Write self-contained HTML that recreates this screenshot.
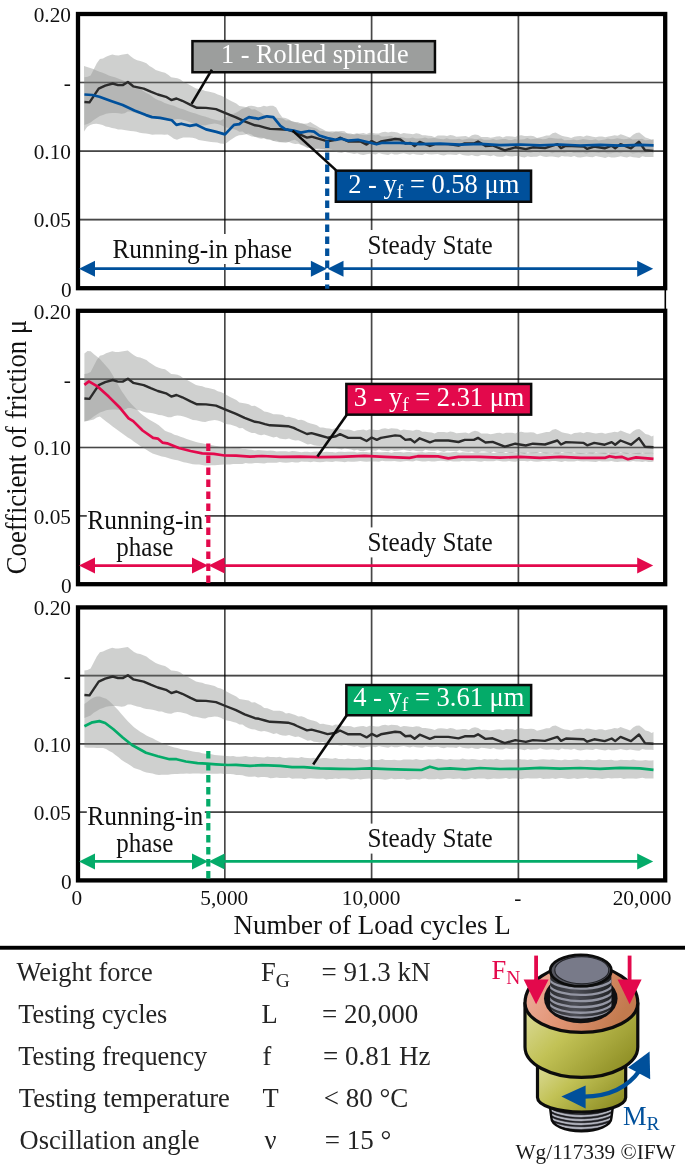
<!DOCTYPE html>
<html lang="en"><head><meta charset="utf-8"><title>Coefficient of friction</title>
<style>html,body{margin:0;padding:0;background:#fff;}body{width:685px;height:1169px;overflow:hidden;}svg text{font-family:"Liberation Serif", "DejaVu Serif", serif;font-variant-ligatures:none;}</style></head>
<body>
<svg width="685" height="1169" viewBox="0 0 685 1169" style="display:block">
<rect x="0" y="0" width="685" height="1169" fill="#ffffff"/>
<g>
<line x1="78.0" y1="82.55" x2="665.2" y2="82.55" stroke="rgba(0,0,0,0.6)" stroke-width="1.6"/>
<line x1="224.80" y1="14.0" x2="224.80" y2="288.2" stroke="rgba(0,0,0,0.6)" stroke-width="1.6"/>
<line x1="78.0" y1="151.10" x2="665.2" y2="151.10" stroke="rgba(0,0,0,0.6)" stroke-width="1.6"/>
<line x1="371.60" y1="14.0" x2="371.60" y2="288.2" stroke="rgba(0,0,0,0.6)" stroke-width="1.6"/>
<line x1="78.0" y1="219.65" x2="665.2" y2="219.65" stroke="rgba(0,0,0,0.6)" stroke-width="1.6"/>
<line x1="518.40" y1="14.0" x2="518.40" y2="288.2" stroke="rgba(0,0,0,0.6)" stroke-width="1.6"/>
<path d="M84.4,77.3 L87.5,76.8 L90.6,75.4 L93.7,69.4 L96.8,63.3 L99.9,59.1 L103.0,58.4 L106.1,56.7 L109.2,55.5 L112.3,54.5 L115.4,55.3 L118.5,55.4 L121.6,54.8 L124.7,54.2 L127.8,53.8 L130.9,56.4 L134.0,58.7 L137.1,60.2 L140.2,60.9 L143.3,62.0 L146.4,63.3 L149.5,65.9 L152.6,67.7 L155.7,69.9 L158.8,71.1 L161.9,72.1 L165.0,72.7 L168.1,74.8 L171.2,77.3 L174.3,77.7 L177.4,78.2 L180.5,79.5 L183.6,81.9 L186.7,83.2 L189.8,85.0 L192.9,86.7 L196.0,88.4 L199.1,89.1 L202.2,89.8 L205.3,90.9 L208.4,91.4 L211.5,92.2 L214.6,93.0 L217.7,94.6 L220.8,95.6 L223.9,97.1 L227.0,98.7 L230.1,100.6 L233.2,101.9 L236.3,103.5 L239.4,106.1 L242.5,106.6 L245.6,107.0 L248.7,107.6 L251.8,109.6 L254.9,109.3 L258.0,110.9 L261.1,112.7 L264.2,115.0 L267.3,115.3 L270.4,116.5 L273.5,117.8 L276.6,117.8 L279.7,117.9 L282.8,118.4 L285.9,120.4 L289.0,120.2 L292.1,121.2 L295.2,122.0 L298.3,123.5 L301.4,123.2 L304.5,124.3 L307.6,126.1 L310.7,127.1 L313.8,127.8 L316.9,128.8 L320.0,131.1 L323.1,130.9 L326.2,131.7 L329.3,132.0 L332.4,132.8 L335.5,131.6 L338.6,131.9 L341.7,132.8 L344.8,133.4 L347.9,133.2 L351.0,133.4 L354.1,134.7 L357.2,133.8 L360.3,133.5 L363.4,133.1 L366.5,134.1 L369.6,132.8 L372.7,133.1 L375.8,133.5 L378.9,133.5 L382.0,132.3 L385.1,131.8 L388.2,132.5 L391.3,131.8 L394.4,132.0 L397.5,132.4 L400.6,134.0 L403.7,133.1 L406.8,133.4 L409.9,133.8 L413.0,134.2 L416.1,133.3 L419.2,133.7 L422.3,135.2 L425.4,135.3 L428.5,135.7 L431.6,136.1 L434.7,137.2 L437.8,135.6 L440.9,135.5 L444.0,135.5 L447.1,136.0 L450.2,135.1 L453.3,135.5 L456.4,136.8 L459.5,136.5 L462.6,136.2 L465.7,136.1 L468.8,137.2 L471.9,135.2 L475.0,134.4 L478.1,135.0 L481.2,137.0 L484.3,136.9 L487.4,137.1 L490.5,137.8 L493.6,137.2 L496.7,136.5 L499.8,136.3 L502.9,137.4 L506.0,136.2 L509.1,136.3 L512.2,136.4 L515.3,137.0 L518.4,135.4 L521.5,135.3 L524.6,136.0 L527.7,136.1 L530.8,135.8 L533.9,136.2 L537.0,137.9 L540.1,137.2 L543.2,136.4 L546.3,135.4 L549.4,135.4 L552.5,133.2 L555.6,132.5 L558.7,134.2 L561.8,135.8 L564.9,136.5 L568.0,137.0 L571.1,137.9 L574.2,136.7 L577.3,136.2 L580.4,135.9 L583.5,136.8 L586.6,135.6 L589.7,135.9 L592.8,136.7 L595.9,137.2 L599.0,136.4 L602.1,136.4 L605.2,137.3 L608.3,136.6 L611.4,136.1 L614.5,135.3 L617.6,135.8 L620.7,134.2 L623.8,135.3 L626.9,136.5 L630.0,137.6 L633.1,134.7 L636.2,132.9 L639.3,132.6 L642.4,134.9 L645.5,137.5 L648.6,138.4 L651.7,140.1 L653.5,139.1 L653.5,157.1 L651.7,156.9 L648.6,157.1 L645.5,157.1 L642.4,156.3 L639.3,157.9 L636.2,157.6 L633.1,157.3 L630.0,156.6 L626.9,157.5 L623.8,156.9 L620.7,156.2 L617.6,157.0 L614.5,157.5 L611.4,157.6 L608.3,156.7 L605.2,157.9 L602.1,157.3 L599.0,156.8 L595.9,156.1 L592.8,157.3 L589.7,157.0 L586.6,156.6 L583.5,157.1 L580.4,157.6 L577.3,157.2 L574.2,156.0 L571.1,156.9 L568.0,156.5 L564.9,156.4 L561.8,155.9 L558.7,157.4 L555.6,157.1 L552.5,156.6 L549.4,156.6 L546.3,157.0 L543.2,156.5 L540.1,155.5 L537.0,156.7 L533.9,156.8 L530.8,156.9 L527.7,156.2 L524.6,157.6 L521.5,156.9 L518.4,156.1 L515.3,155.9 L512.2,156.6 L509.1,156.3 L506.0,155.6 L502.9,156.7 L499.8,156.7 L496.7,156.4 L493.6,155.2 L490.5,156.3 L487.4,155.6 L484.3,155.1 L481.2,155.1 L478.1,156.2 L475.0,155.9 L471.9,155.0 L468.8,155.7 L465.7,155.4 L462.6,155.0 L459.5,153.8 L456.4,155.1 L453.3,154.7 L450.2,154.6 L447.1,154.4 L444.0,155.5 L440.9,154.9 L437.8,153.9 L434.7,154.3 L431.6,154.4 L428.5,154.3 L425.4,153.5 L422.3,155.0 L419.2,154.8 L416.1,154.5 L413.0,153.8 L409.9,154.8 L406.8,154.0 L403.7,153.3 L400.6,153.8 L397.5,154.4 L394.4,154.5 L391.3,153.6 L388.2,154.9 L385.1,154.4 L382.0,154.0 L378.9,153.1 L375.8,154.4 L372.7,154.0 L369.6,153.7 L366.5,154.2 L363.4,154.9 L360.3,154.6 L357.2,153.3 L354.1,154.0 L351.0,153.2 L347.9,152.7 L344.8,151.8 L341.7,153.1 L338.6,152.4 L335.5,151.7 L332.4,151.4 L329.3,151.6 L326.2,150.6 L323.1,149.1 L320.0,149.7 L316.9,149.3 L313.8,148.9 L310.7,147.5 L307.6,148.0 L304.5,146.5 L301.4,145.0 L298.3,143.8 L295.2,144.1 L292.1,143.3 L289.0,142.1 L285.9,142.8 L282.8,142.5 L279.7,141.9 L276.6,140.4 L273.5,141.1 L270.4,139.9 L267.3,138.9 L264.2,138.2 L261.1,138.7 L258.0,137.9 L254.9,136.7 L251.8,136.4 L248.7,135.3 L245.6,133.8 L242.5,131.6 L239.4,131.7 L236.3,129.9 L233.2,129.0 L230.1,128.1 L227.0,127.7 L223.9,126.5 L220.8,124.9 L217.7,123.9 L214.6,123.6 L211.5,124.1 L208.4,124.4 L205.3,125.6 L202.2,125.3 L199.1,124.6 L196.0,123.8 L192.9,123.6 L189.8,122.3 L186.7,120.9 L183.6,120.0 L180.5,119.2 L177.4,119.0 L174.3,119.5 L171.2,120.8 L168.1,120.7 L165.0,119.8 L161.9,118.7 L158.8,118.4 L155.7,117.6 L152.6,116.8 L149.5,116.3 L146.4,115.9 L143.3,115.2 L140.2,114.0 L137.1,113.5 L134.0,112.5 L130.9,111.6 L127.8,111.6 L124.7,113.2 L121.6,113.7 L118.5,113.3 L115.4,113.1 L112.3,113.0 L109.2,113.3 L106.1,113.8 L103.0,115.1 L99.9,116.1 L96.8,118.0 L93.7,119.9 L90.6,122.6 L87.5,123.9 L84.4,125.0Z" fill="rgba(150,152,151,0.46)"/>
<path d="M84.0,66.0 L87.1,67.0 L90.2,68.1 L93.3,68.9 L96.4,70.6 L99.5,71.7 L102.6,72.8 L105.7,74.0 L108.8,75.4 L111.9,76.4 L115.0,77.2 L118.1,78.6 L121.2,79.8 L124.3,81.0 L127.4,81.9 L130.5,84.1 L133.6,85.7 L136.7,87.2 L139.8,88.7 L142.9,90.8 L146.0,92.7 L149.1,94.3 L152.2,96.6 L155.3,98.8 L158.4,100.3 L161.5,101.2 L164.6,102.9 L167.7,104.0 L170.8,104.9 L173.9,105.8 L177.0,107.3 L180.1,108.4 L183.2,109.3 L186.3,110.6 L189.4,111.8 L192.5,112.8 L195.6,113.4 L198.7,114.8 L201.8,115.7 L204.9,116.6 L208.0,117.4 L211.1,118.8 L214.2,119.6 L217.3,120.2 L220.4,120.8 L223.5,119.0 L226.6,116.9 L229.7,114.9 L232.8,114.0 L235.9,112.7 L239.0,111.1 L242.1,108.7 L245.2,108.0 L248.3,105.9 L251.4,105.7 L254.5,106.2 L257.6,107.3 L260.7,107.1 L263.8,105.8 L266.9,106.4 L270.0,105.8 L273.1,105.7 L276.2,107.6 L279.3,113.2 L282.4,117.4 L285.5,118.1 L288.6,119.3 L291.7,121.3 L294.8,122.3 L297.9,122.1 L301.0,123.4 L304.1,123.8 L307.2,123.4 L310.3,122.0 L313.4,123.9 L316.5,125.8 L319.6,127.7 L322.7,129.2 L325.8,131.0 L328.9,131.6 L332.0,131.3 L335.1,131.6 L338.2,131.3 L341.3,131.1 L344.4,131.3 L347.5,133.8 L350.6,134.5 L353.7,134.0 L356.8,133.3 L359.9,134.5 L363.0,135.0 L366.1,135.2 L369.2,134.8 L372.3,134.5 L375.4,135.2 L378.5,134.9 L381.6,136.6 L384.7,136.5 L387.8,136.2 L390.9,135.8 L394.0,136.9 L397.1,137.0 L400.2,136.7 L403.3,137.6 L406.4,138.2 L409.5,138.3 L412.6,137.4 L415.7,138.6 L418.8,138.5 L421.9,138.3 L425.0,137.5 L428.1,138.6 L431.2,138.2 L434.3,137.9 L437.4,138.5 L440.5,139.1 L443.6,139.2 L446.7,138.2 L449.8,139.3 L452.9,139.2 L456.0,139.3 L459.1,138.7 L462.2,139.8 L465.3,139.3 L468.4,138.6 L471.5,138.5 L474.6,139.1 L477.7,139.1 L480.8,138.4 L483.9,139.7 L487.0,139.8 L490.1,139.8 L493.2,139.0 L496.3,140.0 L499.4,139.6 L502.5,139.1 L505.6,139.1 L508.7,139.9 L511.8,139.9 L514.9,139.1 L518.0,139.8 L521.1,139.6 L524.2,139.3 L527.3,138.1 L530.4,139.3 L533.5,138.9 L536.6,138.6 L539.7,138.5 L542.8,139.3 L545.9,138.9 L549.0,137.7 L552.1,138.1 L555.2,138.4 L558.3,138.8 L561.4,138.4 L564.5,140.2 L567.6,140.1 L570.7,139.9 L573.8,139.4 L576.9,140.2 L580.0,139.7 L583.1,138.9 L586.2,139.4 L589.3,139.9 L592.4,140.0 L595.5,139.2 L598.6,140.4 L601.7,140.0 L604.8,139.4 L607.9,138.5 L611.0,139.3 L614.1,139.0 L617.2,138.3 L620.3,138.8 L623.4,139.2 L626.5,139.1 L629.6,138.3 L632.7,139.4 L635.8,139.3 L638.9,139.3 L642.0,138.8 L645.1,140.2 L648.2,140.1 L651.3,139.6 L653.6,139.7 L653.6,152.9 L651.3,152.1 L648.2,152.5 L645.1,153.1 L642.0,153.4 L638.9,152.8 L635.8,152.9 L632.7,153.6 L629.6,152.6 L626.5,152.3 L623.4,152.3 L620.3,153.3 L617.2,152.4 L614.1,152.8 L611.0,153.2 L607.9,153.5 L604.8,152.4 L601.7,152.4 L598.6,153.0 L595.5,152.4 L592.4,152.3 L589.3,152.5 L586.2,153.7 L583.1,152.6 L580.0,152.8 L576.9,152.8 L573.8,153.0 L570.7,151.8 L567.6,152.0 L564.5,152.9 L561.4,152.6 L558.3,152.4 L555.2,152.4 L552.1,153.3 L549.0,151.9 L545.9,151.9 L542.8,151.9 L539.7,152.5 L536.6,151.6 L533.5,152.0 L530.4,152.8 L527.3,152.4 L524.2,151.8 L521.1,151.6 L518.0,152.4 L514.9,151.2 L511.8,151.3 L508.7,151.6 L505.6,152.5 L502.5,151.5 L499.4,151.6 L496.3,152.0 L493.2,151.6 L490.1,150.8 L487.0,150.8 L483.9,151.8 L480.8,151.0 L477.7,151.2 L474.6,151.4 L471.5,152.1 L468.4,150.7 L465.3,150.7 L462.2,151.0 L459.1,151.0 L456.0,150.5 L452.9,150.8 L449.8,151.9 L446.7,151.1 L443.6,151.0 L440.5,150.8 L437.4,151.5 L434.3,150.2 L431.2,150.4 L428.1,150.9 L425.0,151.3 L421.9,150.7 L418.8,150.8 L415.7,151.6 L412.6,150.6 L409.5,150.3 L406.4,150.1 L403.3,151.1 L400.2,150.0 L397.1,150.5 L394.0,151.0 L390.9,151.4 L387.8,150.4 L384.7,150.3 L381.6,151.0 L378.5,150.5 L375.4,150.5 L372.3,150.9 L369.2,152.3 L366.1,151.5 L363.0,151.6 L359.9,151.5 L356.8,151.6 L353.7,150.3 L350.6,150.3 L347.5,150.9 L344.4,150.5 L341.3,150.3 L338.2,150.3 L335.1,151.1 L332.0,149.7 L328.9,149.5 L325.8,149.3 L322.7,149.8 L319.6,148.5 L316.5,148.5 L313.4,148.9 L310.3,148.2 L307.2,147.3 L304.1,145.4 L301.0,144.4 L297.9,141.4 L294.8,139.8 L291.7,140.5 L288.6,142.1 L285.5,141.8 L282.4,142.1 L279.3,142.3 L276.2,141.8 L273.1,140.7 L270.0,139.2 L266.9,139.5 L263.8,137.9 L260.7,137.5 L257.6,136.9 L254.5,136.8 L251.4,134.5 L248.3,133.6 L245.2,134.4 L242.1,135.1 L239.0,135.2 L235.9,136.5 L232.8,138.4 L229.7,140.6 L226.6,143.1 L223.5,143.8 L220.4,143.6 L217.3,142.6 L214.2,142.2 L211.1,141.9 L208.0,141.6 L204.9,140.9 L201.8,140.5 L198.7,139.9 L195.6,138.6 L192.5,137.8 L189.4,137.4 L186.3,137.4 L183.2,137.4 L180.1,138.5 L177.0,139.7 L173.9,138.7 L170.8,136.5 L167.7,134.6 L164.6,134.8 L161.5,134.6 L158.4,134.5 L155.3,134.5 L152.2,134.7 L149.1,133.9 L146.0,133.6 L142.9,133.2 L139.8,132.8 L136.7,131.8 L133.6,131.3 L130.5,131.1 L127.4,130.5 L124.3,129.9 L121.2,129.5 L118.1,129.4 L115.0,128.4 L111.9,127.9 L108.8,127.0 L105.7,126.4 L102.6,125.1 L99.5,124.3 L96.4,123.8 L93.3,123.9 L90.2,125.0 L87.1,126.9 L84.0,131.6Z" fill="rgba(150,152,151,0.46)"/>
<line x1="78.0" y1="82.55" x2="665.2" y2="82.55" stroke="rgba(0,0,0,0.3)" stroke-width="1.6"/>
<line x1="224.80" y1="14.0" x2="224.80" y2="288.2" stroke="rgba(0,0,0,0.3)" stroke-width="1.6"/>
<line x1="78.0" y1="151.10" x2="665.2" y2="151.10" stroke="rgba(0,0,0,0.3)" stroke-width="1.6"/>
<line x1="371.60" y1="14.0" x2="371.60" y2="288.2" stroke="rgba(0,0,0,0.3)" stroke-width="1.6"/>
<line x1="78.0" y1="219.65" x2="665.2" y2="219.65" stroke="rgba(0,0,0,0.3)" stroke-width="1.6"/>
<line x1="518.40" y1="14.0" x2="518.40" y2="288.2" stroke="rgba(0,0,0,0.3)" stroke-width="1.6"/>
<polyline points="84.4,102.0 89.5,102.4 93.5,96.4 98.7,88.6 105.2,85.6 112.7,83.5 118.0,85.1 122.7,85.1 127.9,82.0 133.2,86.3 143.7,88.6 150.7,91.7 157.8,94.5 166.0,96.8 171.3,100.1 176.5,98.5 182.3,100.8 190.5,104.9 197.0,107.8 206.0,107.9 216.0,109.1 225.5,113.1 236.0,117.3 244.6,121.4 255.0,125.3 259.0,125.9 265.0,127.6 270.0,128.9 280.0,129.3 288.0,129.8 293.7,131.5 297.0,133.1 307.0,137.6 311.5,136.7 320.0,139.1 327.6,141.3 336.0,139.9 340.0,137.7 348.2,141.5 360.4,141.5 366.6,144.6 371.7,141.1 376.8,143.5 380.9,141.5 395.2,139.0 400.3,139.5 405.4,143.5 410.5,142.9 414.6,146.0 419.7,141.9 429.9,146.0 435.0,144.1 448.3,144.1 458.5,145.6 464.7,143.5 473.9,143.5 478.0,141.5 481.0,143.3 485.5,146.1 492.6,145.5 504.8,150.3 515.3,147.3 525.8,149.1 532.9,147.3 545.0,148.1 557.4,144.1 561.0,148.1 566.0,145.7 583.7,146.5 587.2,148.9 594.2,146.5 604.7,148.3 611.7,145.7 615.2,148.3 620.5,144.1 631.0,148.3 639.0,141.7 645.0,150.3 653.5,150.9" fill="none" stroke="#2b2b2b" stroke-width="2.4" stroke-linejoin="round"/>
<polyline points="84.4,94.5 92.3,95.0 99.4,96.8 111.0,101.0 122.7,105.0 134.4,110.4 146.0,115.1 152.0,117.1 160.0,117.9 171.8,120.3 176.4,124.9 181.3,123.7 189.8,125.9 196.4,124.7 206.0,129.4 216.4,131.9 225.0,134.4 229.0,130.1 234.0,124.9 239.3,124.1 244.6,119.7 249.0,117.1 258.6,118.8 263.9,117.1 267.0,116.3 273.3,117.1 280.4,125.9 285.5,129.3 293.7,130.6 300.9,132.6 309.0,131.0 314.0,131.6 319.3,135.5 327.4,138.1 335.6,139.8 341.7,138.7 347.9,140.6 358.0,139.8 368.3,142.2 376.5,144.3 382.6,142.8 400.0,142.8 420.0,144.1 440.0,143.7 460.0,144.7 480.0,143.9 500.0,145.1 520.0,144.5 540.0,145.3 560.0,144.5 580.0,145.5 600.0,144.9 620.0,145.7 640.0,144.9 653.6,145.3" fill="none" stroke="#00509b" stroke-width="2.7" stroke-linejoin="round"/>
<rect x="78.00" y="14.00" width="587.20" height="274.20" fill="none" stroke="#000" stroke-width="4.3"/>
<text x="71.0" y="21.8" font-size="21.3" fill="#111" text-anchor="end">0.20</text>
<text x="70.9" y="90.3" font-size="21.3" fill="#111" text-anchor="end">-</text>
<text x="71.0" y="158.9" font-size="21.3" fill="#111" text-anchor="end">0.10</text>
<text x="71.0" y="227.4" font-size="21.3" fill="#111" text-anchor="end">0.05</text>
<text x="71.6" y="296.6" font-size="21.3" fill="#111" text-anchor="end">0</text>
<rect x="112" y="234" width="182" height="30" fill="#fff"/>
<text x="112.4" y="258.2" font-size="28.0" fill="#111" text-anchor="start" textLength="179.6" lengthAdjust="spacingAndGlyphs">Running-in phase</text>
<rect x="367" y="230" width="127" height="29" fill="#fff"/>
<text x="367.6" y="254.3" font-size="28.0" fill="#111" text-anchor="start" textLength="125.2" lengthAdjust="spacingAndGlyphs">Steady State</text>
<line x1="327.2" y1="140.5" x2="327.2" y2="288.8" stroke="#00509b" stroke-width="4.2" stroke-dasharray="7.6 4.4"/>
<line x1="94.0" y1="268.7" x2="311.9" y2="268.7" stroke="#00509b" stroke-width="2.7"/>
<path d="M79.0,268.7 L95.0,260.7 L95.0,276.7 Z" fill="#00509b"/>
<path d="M326.9,268.7 L310.9,260.7 L310.9,276.7 Z" fill="#00509b"/>
<line x1="342.5" y1="268.7" x2="638.2" y2="268.7" stroke="#00509b" stroke-width="2.7"/>
<path d="M327.5,268.7 L343.5,260.7 L343.5,276.7 Z" fill="#00509b"/>
<path d="M653.2,268.7 L637.2,260.7 L637.2,276.7 Z" fill="#00509b"/>
</g>
<g>
<line x1="78.0" y1="379.15" x2="665.2" y2="379.15" stroke="rgba(0,0,0,0.6)" stroke-width="1.6"/>
<line x1="224.80" y1="310.8" x2="224.80" y2="584.2" stroke="rgba(0,0,0,0.6)" stroke-width="1.6"/>
<line x1="78.0" y1="447.50" x2="665.2" y2="447.50" stroke="rgba(0,0,0,0.6)" stroke-width="1.6"/>
<line x1="371.60" y1="310.8" x2="371.60" y2="584.2" stroke="rgba(0,0,0,0.6)" stroke-width="1.6"/>
<line x1="78.0" y1="515.85" x2="665.2" y2="515.85" stroke="rgba(0,0,0,0.6)" stroke-width="1.6"/>
<line x1="518.40" y1="310.8" x2="518.40" y2="584.2" stroke="rgba(0,0,0,0.6)" stroke-width="1.6"/>
<path d="M84.4,374.0 L87.5,373.4 L90.6,372.0 L93.7,366.0 L96.8,359.9 L99.9,355.8 L103.0,355.0 L106.1,353.3 L109.2,352.2 L112.3,351.2 L115.4,352.0 L118.5,352.1 L121.6,351.5 L124.7,350.9 L127.8,350.5 L130.9,353.1 L134.0,355.3 L137.1,356.9 L140.2,357.6 L143.3,358.7 L146.4,359.9 L149.5,362.6 L152.6,364.4 L155.7,366.6 L158.8,367.8 L161.9,368.8 L165.0,369.3 L168.1,371.4 L171.2,373.9 L174.3,374.3 L177.4,374.8 L180.5,376.1 L183.6,378.5 L186.7,379.8 L189.8,381.6 L192.9,383.3 L196.0,385.0 L199.1,385.7 L202.2,386.3 L205.3,387.5 L208.4,388.0 L211.5,388.8 L214.6,389.6 L217.7,391.2 L220.8,392.1 L223.9,393.6 L227.0,395.3 L230.1,397.1 L233.2,398.4 L236.3,400.1 L239.4,402.6 L242.5,403.1 L245.6,403.6 L248.7,404.2 L251.8,406.1 L254.9,405.8 L258.0,407.4 L261.1,409.2 L264.2,411.5 L267.3,411.9 L270.4,413.0 L273.5,414.3 L276.6,414.3 L279.7,414.4 L282.8,414.9 L285.9,416.9 L289.0,416.7 L292.1,417.7 L295.2,418.5 L298.3,419.9 L301.4,419.7 L304.5,420.8 L307.6,422.5 L310.7,423.6 L313.8,424.3 L316.9,425.3 L320.0,427.6 L323.1,427.4 L326.2,428.2 L329.3,428.4 L332.4,429.3 L335.5,428.0 L338.6,428.3 L341.7,429.3 L344.8,429.8 L347.9,429.6 L351.0,429.9 L354.1,431.2 L357.2,430.2 L360.3,429.9 L363.4,429.6 L366.5,430.5 L369.6,429.3 L372.7,429.5 L375.8,429.9 L378.9,430.0 L382.0,428.8 L385.1,428.3 L388.2,429.0 L391.3,428.3 L394.4,428.5 L397.5,428.8 L400.6,430.4 L403.7,429.5 L406.8,429.9 L409.9,430.3 L413.0,430.7 L416.1,429.8 L419.2,430.1 L422.3,431.7 L425.4,431.7 L428.5,432.2 L431.6,432.5 L434.7,433.6 L437.8,432.1 L440.9,431.9 L444.0,431.9 L447.1,432.5 L450.2,431.5 L453.3,432.0 L456.4,433.2 L459.5,433.0 L462.6,432.7 L465.7,432.5 L468.8,433.6 L471.9,431.7 L475.0,430.8 L478.1,431.5 L481.2,433.4 L484.3,433.4 L487.4,433.5 L490.5,434.2 L493.6,433.7 L496.7,433.0 L499.8,432.8 L502.9,433.8 L506.0,432.7 L509.1,432.8 L512.2,432.8 L515.3,433.5 L518.4,431.9 L521.5,431.8 L524.6,432.5 L527.7,432.5 L530.8,432.2 L533.9,432.6 L537.0,434.3 L540.1,433.6 L543.2,432.8 L546.3,431.9 L549.4,431.9 L552.5,429.7 L555.6,429.0 L558.7,430.6 L561.8,432.2 L564.9,433.0 L568.0,433.4 L571.1,434.4 L574.2,433.1 L577.3,432.7 L580.4,432.3 L583.5,433.3 L586.6,432.0 L589.7,432.3 L592.8,433.1 L595.9,433.6 L599.0,432.9 L602.1,432.8 L605.2,433.8 L608.3,433.0 L611.4,432.5 L614.5,431.7 L617.6,432.2 L620.7,430.6 L623.8,431.8 L626.9,432.9 L630.0,434.1 L633.1,431.2 L636.2,429.4 L639.3,429.1 L642.4,431.3 L645.5,434.0 L648.6,434.8 L651.7,436.5 L653.5,435.5 L653.5,453.5 L651.7,453.3 L648.6,453.5 L645.5,453.4 L642.4,452.7 L639.3,454.3 L636.2,454.0 L633.1,453.7 L630.0,453.0 L626.9,453.9 L623.8,453.3 L620.7,452.6 L617.6,453.3 L614.5,453.9 L611.4,454.0 L608.3,453.0 L605.2,454.3 L602.1,453.7 L599.0,453.2 L595.9,452.5 L592.8,453.7 L589.7,453.4 L586.6,453.0 L583.5,453.5 L580.4,454.0 L577.3,453.6 L574.2,452.4 L571.1,453.3 L568.0,452.9 L564.9,452.8 L561.8,452.2 L558.7,453.8 L555.6,453.5 L552.5,452.9 L549.4,453.0 L546.3,453.4 L543.2,452.9 L540.1,451.9 L537.0,453.1 L533.9,453.2 L530.8,453.3 L527.7,452.6 L524.6,453.9 L521.5,453.2 L518.4,452.5 L515.3,452.3 L512.2,452.9 L509.1,452.7 L506.0,451.9 L502.9,453.1 L499.8,453.1 L496.7,452.8 L493.6,451.6 L490.5,452.7 L487.4,452.0 L484.3,451.5 L481.2,451.4 L478.1,452.5 L475.0,452.3 L471.9,451.4 L468.8,452.1 L465.7,451.8 L462.6,451.3 L459.5,450.2 L456.4,451.5 L453.3,451.1 L450.2,451.0 L447.1,450.8 L444.0,451.9 L440.9,451.3 L437.8,450.3 L434.7,450.7 L431.6,450.8 L428.5,450.6 L425.4,449.8 L422.3,451.4 L419.2,451.2 L416.1,450.9 L413.0,450.2 L409.9,451.1 L406.8,450.4 L403.7,449.7 L400.6,450.2 L397.5,450.8 L394.4,450.9 L391.3,450.0 L388.2,451.3 L385.1,450.8 L382.0,450.4 L378.9,449.5 L375.8,450.8 L372.7,450.4 L369.6,450.1 L366.5,450.6 L363.4,451.3 L360.3,451.0 L357.2,449.7 L354.1,450.4 L351.0,449.6 L347.9,449.1 L344.8,448.2 L341.7,449.4 L338.6,448.8 L335.5,448.1 L332.4,447.8 L329.3,448.0 L326.2,447.0 L323.1,445.5 L320.0,446.1 L316.9,445.7 L313.8,445.3 L310.7,443.9 L307.6,444.4 L304.5,442.9 L301.4,441.4 L298.3,440.2 L295.2,440.5 L292.1,439.7 L289.0,438.5 L285.9,439.3 L282.8,438.9 L279.7,438.4 L276.6,436.8 L273.5,437.5 L270.4,436.4 L267.3,435.4 L264.2,434.6 L261.1,435.2 L258.0,434.4 L254.9,433.1 L251.8,432.9 L248.7,431.7 L245.6,430.3 L242.5,428.0 L239.4,428.2 L236.3,426.4 L233.2,425.5 L230.1,424.5 L227.0,424.2 L223.9,422.9 L220.8,421.4 L217.7,420.4 L214.6,420.0 L211.5,420.6 L208.4,420.9 L205.3,422.1 L202.2,421.8 L199.1,421.1 L196.0,420.3 L192.9,420.1 L189.8,418.7 L186.7,417.4 L183.6,416.5 L180.5,415.7 L177.4,415.5 L174.3,416.0 L171.2,417.3 L168.1,417.2 L165.0,416.3 L161.9,415.2 L158.8,414.9 L155.7,414.1 L152.6,413.3 L149.5,412.8 L146.4,412.4 L143.3,411.7 L140.2,410.5 L137.1,410.1 L134.0,409.0 L130.9,408.1 L127.8,408.1 L124.7,409.7 L121.6,410.2 L118.5,409.8 L115.4,409.6 L112.3,409.6 L109.2,409.8 L106.1,410.3 L103.0,411.6 L99.9,412.6 L96.8,414.5 L93.7,416.4 L90.6,419.1 L87.5,420.4 L84.4,421.5Z" fill="rgba(150,152,151,0.46)"/>
<path d="M84.4,353.6 L87.5,351.0 L90.6,351.3 L93.7,354.0 L96.8,356.4 L99.9,359.1 L103.0,362.4 L106.1,366.0 L109.2,369.4 L112.3,374.6 L115.4,379.8 L118.5,385.5 L121.6,391.0 L124.7,395.6 L127.8,399.9 L130.9,403.6 L134.0,406.7 L137.1,409.8 L140.2,413.1 L143.3,415.4 L146.4,417.8 L149.5,419.7 L152.6,421.6 L155.7,423.2 L158.8,425.3 L161.9,428.1 L165.0,430.7 L168.1,431.9 L171.2,433.1 L174.3,434.7 L177.4,435.6 L180.5,436.8 L183.6,437.8 L186.7,439.1 L189.8,439.9 L192.9,441.0 L196.0,442.0 L199.1,442.7 L202.2,443.3 L205.3,444.0 L208.4,444.9 L211.5,445.1 L214.6,445.7 L217.7,446.2 L220.8,447.0 L223.9,447.0 L227.0,447.3 L230.1,447.6 L233.2,447.8 L236.3,447.7 L239.4,447.9 L242.5,449.0 L245.6,448.9 L248.7,449.4 L251.8,449.7 L254.9,450.6 L258.0,450.1 L261.1,450.3 L264.2,450.5 L267.3,450.8 L270.4,450.5 L273.5,450.8 L276.6,451.6 L279.7,451.3 L282.8,451.2 L285.9,451.2 L289.0,451.8 L292.1,451.1 L295.2,451.3 L298.3,451.7 L301.4,452.2 L304.5,451.8 L307.6,451.8 L310.7,452.3 L313.8,451.8 L316.9,451.6 L320.0,451.5 L323.1,452.2 L326.2,451.7 L329.3,451.9 L332.4,452.1 L335.5,452.5 L338.6,451.8 L341.7,451.7 L344.8,452.1 L347.9,451.8 L351.0,451.7 L354.1,451.8 L357.2,452.6 L360.3,452.0 L363.4,452.1 L366.5,452.1 L369.6,452.4 L372.7,451.7 L375.8,451.7 L378.9,452.3 L382.0,452.3 L385.1,452.1 L388.2,452.1 L391.3,452.8 L394.4,452.0 L397.5,452.0 L400.6,451.9 L403.7,452.4 L406.8,451.9 L409.9,452.1 L413.0,452.6 L416.1,452.6 L419.2,452.2 L422.3,452.1 L425.4,452.6 L428.5,452.0 L431.6,452.0 L434.7,452.1 L437.8,452.9 L440.9,452.3 L444.0,452.4 L447.1,452.6 L450.2,452.6 L453.3,452.1 L456.4,452.0 L459.5,452.7 L462.6,452.3 L465.7,452.4 L468.8,452.5 L471.9,453.1 L475.0,452.3 L478.1,452.3 L481.2,452.4 L484.3,452.6 L487.4,452.2 L490.5,452.3 L493.6,453.1 L496.7,452.7 L499.8,452.6 L502.9,452.5 L506.0,453.0 L509.1,452.2 L512.2,452.3 L515.3,452.6 L518.4,453.0 L521.5,452.6 L524.6,452.7 L527.7,453.2 L530.8,452.7 L533.9,452.4 L537.0,452.3 L540.1,453.0 L543.2,452.4 L546.3,452.6 L549.4,452.9 L552.5,453.3 L555.6,452.6 L558.7,452.6 L561.8,452.9 L564.9,452.6 L568.0,452.4 L571.1,452.5 L574.2,453.3 L577.3,452.8 L580.4,452.9 L583.5,452.9 L586.6,453.2 L589.7,452.4 L592.8,452.5 L595.9,452.9 L599.0,452.9 L602.1,452.8 L605.2,452.8 L608.3,453.5 L611.4,452.8 L614.5,452.7 L617.6,452.6 L620.7,453.1 L623.8,452.5 L626.9,452.7 L630.0,453.2 L633.1,453.3 L636.2,452.9 L639.3,452.8 L642.4,453.3 L645.5,452.7 L648.6,452.7 L651.7,452.7 L653.5,453.0 L653.5,461.6 L651.7,461.9 L648.6,461.9 L645.5,461.3 L642.4,461.9 L639.3,461.6 L636.2,461.4 L633.1,460.9 L630.0,461.7 L626.9,461.6 L623.8,461.4 L620.7,461.6 L617.6,462.0 L614.5,461.7 L611.4,461.0 L608.3,461.5 L605.2,461.4 L602.1,461.4 L599.0,461.0 L595.9,461.9 L592.8,461.7 L589.7,461.5 L586.6,461.3 L583.5,461.6 L580.4,461.3 L577.3,460.8 L574.2,461.4 L571.1,461.6 L568.0,461.6 L564.9,461.1 L561.8,461.9 L558.7,461.5 L555.6,461.1 L552.5,460.9 L549.4,461.5 L546.3,461.3 L543.2,461.0 L540.1,461.6 L537.0,461.7 L533.9,461.5 L530.8,460.8 L527.7,461.5 L524.6,461.1 L521.5,461.0 L518.4,460.9 L515.3,461.7 L512.2,461.5 L509.1,461.1 L506.0,461.4 L502.9,461.4 L499.8,461.1 L496.7,460.6 L493.6,461.3 L490.5,461.2 L487.4,461.3 L484.3,461.0 L481.2,461.7 L478.1,461.4 L475.0,460.9 L471.9,461.0 L468.8,461.2 L465.7,461.2 L462.6,460.8 L459.5,461.6 L456.4,461.5 L453.3,461.4 L450.2,460.9 L447.1,461.5 L444.0,461.1 L440.9,460.8 L437.8,461.0 L434.7,461.5 L431.6,461.4 L428.5,461.0 L425.4,461.6 L422.3,461.4 L419.2,461.1 L416.1,460.6 L413.0,461.4 L409.9,461.2 L406.8,461.1 L403.7,461.2 L400.6,461.7 L397.5,461.5 L394.4,460.9 L391.3,461.3 L388.2,461.2 L385.1,461.2 L382.0,460.8 L378.9,461.8 L375.8,461.6 L372.7,461.5 L369.6,461.4 L366.5,461.8 L363.4,461.4 L360.3,461.0 L357.2,461.5 L354.1,461.7 L351.0,461.8 L347.9,461.4 L344.8,462.2 L341.7,461.8 L338.6,461.6 L335.5,461.3 L332.4,461.9 L329.3,461.7 L326.2,461.4 L323.1,462.0 L320.0,462.2 L316.9,462.1 L313.8,461.5 L310.7,462.2 L307.6,461.8 L304.5,461.7 L301.4,461.6 L298.3,462.4 L295.2,462.4 L292.1,462.1 L289.0,462.5 L285.9,462.7 L282.8,462.5 L279.7,461.9 L276.6,462.8 L273.5,462.7 L270.4,462.8 L267.3,462.7 L264.2,463.6 L261.1,463.3 L258.0,463.0 L254.9,463.1 L251.8,463.4 L248.7,463.4 L245.6,463.0 L242.5,463.9 L239.4,464.0 L236.3,464.0 L233.2,463.9 L230.1,464.4 L227.0,464.5 L223.9,464.5 L220.8,464.7 L217.7,465.1 L214.6,465.2 L211.5,465.2 L208.4,465.6 L205.3,465.5 L202.2,465.1 L199.1,464.6 L196.0,464.6 L192.9,464.3 L189.8,463.5 L186.7,462.7 L183.6,462.2 L180.5,461.3 L177.4,460.3 L174.3,459.7 L171.2,458.9 L168.1,458.1 L165.0,457.1 L161.9,456.6 L158.8,455.6 L155.7,454.6 L152.6,453.5 L149.5,451.8 L146.4,449.8 L143.3,447.7 L140.2,445.9 L137.1,443.8 L134.0,441.7 L130.9,439.3 L127.8,437.5 L124.7,435.2 L121.6,433.0 L118.5,430.7 L115.4,428.6 L112.3,426.2 L109.2,423.7 L106.1,421.4 L103.0,419.0 L99.9,416.5 L96.8,417.4 L93.7,419.4 L90.6,420.3 L87.5,420.9 L84.4,421.4Z" fill="rgba(150,152,151,0.46)"/>
<line x1="78.0" y1="379.15" x2="665.2" y2="379.15" stroke="rgba(0,0,0,0.3)" stroke-width="1.6"/>
<line x1="224.80" y1="310.8" x2="224.80" y2="584.2" stroke="rgba(0,0,0,0.3)" stroke-width="1.6"/>
<line x1="78.0" y1="447.50" x2="665.2" y2="447.50" stroke="rgba(0,0,0,0.3)" stroke-width="1.6"/>
<line x1="371.60" y1="310.8" x2="371.60" y2="584.2" stroke="rgba(0,0,0,0.3)" stroke-width="1.6"/>
<line x1="78.0" y1="515.85" x2="665.2" y2="515.85" stroke="rgba(0,0,0,0.3)" stroke-width="1.6"/>
<line x1="518.40" y1="310.8" x2="518.40" y2="584.2" stroke="rgba(0,0,0,0.3)" stroke-width="1.6"/>
<polyline points="84.4,398.5 89.5,398.9 93.5,392.9 98.7,385.1 105.2,382.1 112.7,380.0 118.0,381.6 122.7,381.6 127.9,378.7 133.2,382.8 143.7,385.1 150.7,388.2 157.8,391.0 166.0,393.3 171.3,396.6 176.5,395.0 182.3,397.3 190.5,401.4 197.0,404.3 206.0,404.4 216.0,405.6 225.5,409.6 236.0,413.8 244.6,417.9 255.0,421.8 259.0,422.4 265.0,424.1 270.0,425.3 280.0,425.7 288.0,426.2 293.7,427.9 297.0,429.5 307.0,434.0 311.5,433.1 320.0,435.5 327.6,437.7 336.0,436.3 340.0,434.1 348.2,437.9 360.4,437.9 366.6,441.0 371.7,437.5 376.8,439.9 380.9,437.9 395.2,435.4 400.3,435.9 405.4,439.9 410.5,439.3 414.6,442.4 419.7,438.3 429.9,442.4 435.0,440.5 448.3,440.5 458.5,442.0 464.7,439.9 473.9,439.9 478.0,437.9 481.0,439.7 485.5,442.5 492.6,441.9 504.8,446.7 515.3,443.7 525.8,445.5 532.9,443.7 545.0,444.5 557.4,440.5 561.0,444.5 566.0,442.1 583.7,442.9 587.2,445.3 594.2,442.9 604.7,444.7 611.7,442.1 615.2,444.7 620.5,440.5 631.0,444.7 639.0,438.1 645.0,446.7 653.5,447.3" fill="none" stroke="#2b2b2b" stroke-width="2.4" stroke-linejoin="round"/>
<polyline points="84.4,384.9 88.9,381.4 97.0,386.1 108.7,396.6 120.4,408.3 128.6,418.3 133.2,421.1 142.6,430.5 153.1,437.9 157.8,438.6 162.4,442.6 167.1,443.3 178.8,448.0 190.5,451.0 202.2,453.4 213.8,453.8 224.4,455.5 236.0,455.6 250.0,456.6 262.0,456.0 280.0,456.9 300.0,456.6 320.0,457.2 340.0,456.8 364.5,455.9 385.0,456.8 409.5,457.8 417.7,456.2 438.0,456.4 448.3,458.3 458.5,456.8 480.0,456.8 500.0,457.6 520.0,456.9 540.0,457.8 560.4,456.8 580.9,457.8 605.4,457.8 609.5,456.2 615.6,457.4 621.7,456.8 627.9,459.2 636.0,457.4 653.5,458.8" fill="none" stroke="#e3094c" stroke-width="2.7" stroke-linejoin="round"/>
<rect x="78.00" y="310.80" width="587.20" height="273.40" fill="none" stroke="#000" stroke-width="4.3"/>
<text x="71.0" y="318.6" font-size="21.3" fill="#111" text-anchor="end">0.20</text>
<text x="70.9" y="387.0" font-size="21.3" fill="#111" text-anchor="end">-</text>
<text x="71.0" y="455.3" font-size="21.3" fill="#111" text-anchor="end">0.10</text>
<text x="71.0" y="523.6" font-size="21.3" fill="#111" text-anchor="end">0.05</text>
<text x="71.6" y="592.6" font-size="21.3" fill="#111" text-anchor="end">0</text>
<rect x="86.8" y="506.7" width="118" height="52" fill="#fff"/>
<text x="87.3" y="529.0" font-size="28.0" fill="#111" text-anchor="start" textLength="116.0" lengthAdjust="spacingAndGlyphs">Running-in</text>
<text x="116.3" y="555.6" font-size="28.0" fill="#111" text-anchor="start" textLength="57.0" lengthAdjust="spacingAndGlyphs">phase</text>
<rect x="366.5" y="527.4" width="128" height="30" fill="#fff"/>
<text x="367.6" y="550.6" font-size="28.0" fill="#111" text-anchor="start" textLength="125.2" lengthAdjust="spacingAndGlyphs">Steady State</text>
<line x1="208.3" y1="443.5" x2="208.3" y2="583.4" stroke="#e3094c" stroke-width="4.2" stroke-dasharray="7.6 4.4"/>
<line x1="94.0" y1="565.6" x2="193.0" y2="565.6" stroke="#e3094c" stroke-width="2.7"/>
<path d="M79.0,565.6 L95.0,557.6 L95.0,573.6 Z" fill="#e3094c"/>
<path d="M208.0,565.6 L192.0,557.6 L192.0,573.6 Z" fill="#e3094c"/>
<line x1="223.6" y1="565.6" x2="638.2" y2="565.6" stroke="#e3094c" stroke-width="2.7"/>
<path d="M208.6,565.6 L224.6,557.6 L224.6,573.6 Z" fill="#e3094c"/>
<path d="M653.2,565.6 L637.2,557.6 L637.2,573.6 Z" fill="#e3094c"/>
</g>
<g>
<line x1="78.0" y1="675.65" x2="665.2" y2="675.65" stroke="rgba(0,0,0,0.6)" stroke-width="1.6"/>
<line x1="224.80" y1="607.4" x2="224.80" y2="880.4" stroke="rgba(0,0,0,0.6)" stroke-width="1.6"/>
<line x1="78.0" y1="743.90" x2="665.2" y2="743.90" stroke="rgba(0,0,0,0.6)" stroke-width="1.6"/>
<line x1="371.60" y1="607.4" x2="371.60" y2="880.4" stroke="rgba(0,0,0,0.6)" stroke-width="1.6"/>
<line x1="78.0" y1="812.15" x2="665.2" y2="812.15" stroke="rgba(0,0,0,0.6)" stroke-width="1.6"/>
<line x1="518.40" y1="607.4" x2="518.40" y2="880.4" stroke="rgba(0,0,0,0.6)" stroke-width="1.6"/>
<path d="M84.4,670.5 L87.5,669.9 L90.6,668.5 L93.7,662.5 L96.8,656.4 L99.9,652.3 L103.0,651.6 L106.1,649.9 L109.2,648.7 L112.3,647.7 L115.4,648.6 L118.5,648.6 L121.6,648.0 L124.7,647.4 L127.8,647.0 L130.9,649.6 L134.0,651.9 L137.1,653.4 L140.2,654.1 L143.3,655.2 L146.4,656.5 L149.5,659.1 L152.6,660.9 L155.7,663.1 L158.8,664.3 L161.9,665.3 L165.0,665.9 L168.1,667.9 L171.2,670.4 L174.3,670.8 L177.4,671.3 L180.5,672.6 L183.6,675.0 L186.7,676.3 L189.8,678.1 L192.9,679.8 L196.0,681.4 L199.1,682.2 L202.2,682.8 L205.3,684.0 L208.4,684.5 L211.5,685.3 L214.6,686.1 L217.7,687.7 L220.8,688.6 L223.9,690.1 L227.0,691.8 L230.1,693.6 L233.2,694.9 L236.3,696.5 L239.4,699.1 L242.5,699.6 L245.6,700.0 L248.7,700.6 L251.8,702.6 L254.9,702.2 L258.0,703.9 L261.1,705.6 L264.2,707.9 L267.3,708.3 L270.4,709.4 L273.5,710.7 L276.6,710.8 L279.7,710.8 L282.8,711.4 L285.9,713.4 L289.0,713.1 L292.1,714.1 L295.2,715.0 L298.3,716.4 L301.4,716.2 L304.5,717.2 L307.6,719.0 L310.7,720.0 L313.8,720.7 L316.9,721.7 L320.0,724.0 L323.1,723.8 L326.2,724.6 L329.3,724.9 L332.4,725.7 L335.5,724.5 L338.6,724.8 L341.7,725.7 L344.8,726.3 L347.9,726.0 L351.0,726.3 L354.1,727.6 L357.2,726.7 L360.3,726.3 L363.4,726.0 L366.5,727.0 L369.6,725.7 L372.7,725.9 L375.8,726.4 L378.9,726.4 L382.0,725.2 L385.1,724.7 L388.2,725.4 L391.3,724.7 L394.4,724.9 L397.5,725.3 L400.6,726.9 L403.7,725.9 L406.8,726.3 L409.9,726.7 L413.0,727.1 L416.1,726.2 L419.2,726.5 L422.3,728.1 L425.4,728.1 L428.5,728.6 L431.6,729.0 L434.7,730.0 L437.8,728.5 L440.9,728.3 L444.0,728.4 L447.1,728.9 L450.2,727.9 L453.3,728.4 L456.4,729.7 L459.5,729.4 L462.6,729.1 L465.7,728.9 L468.8,730.0 L471.9,728.1 L475.0,727.2 L478.1,727.9 L481.2,729.9 L484.3,729.8 L487.4,730.0 L490.5,730.6 L493.6,730.1 L496.7,729.4 L499.8,729.2 L502.9,730.3 L506.0,729.1 L509.1,729.2 L512.2,729.2 L515.3,729.9 L518.4,728.3 L521.5,728.2 L524.6,728.9 L527.7,728.9 L530.8,728.7 L533.9,729.0 L537.0,730.7 L540.1,730.0 L543.2,729.3 L546.3,728.3 L549.4,728.3 L552.5,726.1 L555.6,725.4 L558.7,727.1 L561.8,728.6 L564.9,729.4 L568.0,729.8 L571.1,730.8 L574.2,729.5 L577.3,729.1 L580.4,728.8 L583.5,729.7 L586.6,728.5 L589.7,728.7 L592.8,729.5 L595.9,730.1 L599.0,729.3 L602.1,729.2 L605.2,730.2 L608.3,729.4 L611.4,729.0 L614.5,728.1 L617.6,728.6 L620.7,727.0 L623.8,728.2 L626.9,729.3 L630.0,730.5 L633.1,727.6 L636.2,725.8 L639.3,725.5 L642.4,727.8 L645.5,730.4 L648.6,731.3 L651.7,732.9 L653.5,731.9 L653.5,749.9 L651.7,749.7 L648.6,749.8 L645.5,749.8 L642.4,749.1 L639.3,750.7 L636.2,750.4 L633.1,750.1 L630.0,749.4 L626.9,750.3 L623.8,749.7 L620.7,749.0 L617.6,749.7 L614.5,750.3 L611.4,750.3 L608.3,749.4 L605.2,750.6 L602.1,750.1 L599.0,749.6 L595.9,748.8 L592.8,750.1 L589.7,749.8 L586.6,749.4 L583.5,749.9 L580.4,750.4 L577.3,750.0 L574.2,748.7 L571.1,749.7 L568.0,749.3 L564.9,749.2 L561.8,748.6 L558.7,750.2 L555.6,749.8 L552.5,749.3 L549.4,749.4 L546.3,749.8 L543.2,749.3 L540.1,748.3 L537.0,749.5 L533.9,749.6 L530.8,749.7 L527.7,749.0 L524.6,750.3 L521.5,749.6 L518.4,748.9 L515.3,748.7 L512.2,749.3 L509.1,749.1 L506.0,748.3 L502.9,749.5 L499.8,749.5 L496.7,749.2 L493.6,748.0 L490.5,749.1 L487.4,748.4 L484.3,747.9 L481.2,747.8 L478.1,748.9 L475.0,748.7 L471.9,747.8 L468.8,748.5 L465.7,748.2 L462.6,747.7 L459.5,746.6 L456.4,747.9 L453.3,747.5 L450.2,747.4 L447.1,747.2 L444.0,748.3 L440.9,747.7 L437.8,746.7 L434.7,747.1 L431.6,747.2 L428.5,747.0 L425.4,746.2 L422.3,747.8 L419.2,747.6 L416.1,747.3 L413.0,746.6 L409.9,747.5 L406.8,746.8 L403.7,746.1 L400.6,746.6 L397.5,747.2 L394.4,747.3 L391.3,746.4 L388.2,747.7 L385.1,747.2 L382.0,746.8 L378.9,745.9 L375.8,747.2 L372.7,746.8 L369.6,746.5 L366.5,747.0 L363.4,747.7 L360.3,747.4 L357.2,746.1 L354.1,746.8 L351.0,746.0 L347.9,745.5 L344.8,744.6 L341.7,745.8 L338.6,745.2 L335.5,744.5 L332.4,744.2 L329.3,744.4 L326.2,743.4 L323.1,741.9 L320.0,742.5 L316.9,742.1 L313.8,741.7 L310.7,740.3 L307.6,740.8 L304.5,739.3 L301.4,737.8 L298.3,736.6 L295.2,736.9 L292.1,736.1 L289.0,735.0 L285.9,735.7 L282.8,735.4 L279.7,734.8 L276.6,733.3 L273.5,734.0 L270.4,732.8 L267.3,731.8 L264.2,731.0 L261.1,731.6 L258.0,730.8 L254.9,729.5 L251.8,729.3 L248.7,728.2 L245.6,726.7 L242.5,724.4 L239.4,724.6 L236.3,722.8 L233.2,721.9 L230.1,721.0 L227.0,720.6 L223.9,719.4 L220.8,717.8 L217.7,716.8 L214.6,716.5 L211.5,717.0 L208.4,717.3 L205.3,718.6 L202.2,718.2 L199.1,717.6 L196.0,716.7 L192.9,716.5 L189.8,715.2 L186.7,713.8 L183.6,713.0 L180.5,712.2 L177.4,712.0 L174.3,712.4 L171.2,713.7 L168.1,713.6 L165.0,712.7 L161.9,711.6 L158.8,711.4 L155.7,710.5 L152.6,709.7 L149.5,709.2 L146.4,708.9 L143.3,708.2 L140.2,707.0 L137.1,706.5 L134.0,705.5 L130.9,704.6 L127.8,704.6 L124.7,706.2 L121.6,706.7 L118.5,706.3 L115.4,706.0 L112.3,706.0 L109.2,706.2 L106.1,706.8 L103.0,708.1 L99.9,709.1 L96.8,711.0 L93.7,712.8 L90.6,715.5 L87.5,716.8 L84.4,717.9Z" fill="rgba(150,152,151,0.46)"/>
<path d="M84.4,704.0 L87.5,701.8 L90.6,699.3 L93.7,697.6 L96.8,696.6 L99.9,696.5 L103.0,697.7 L106.1,698.7 L109.2,701.1 L112.3,703.9 L115.4,707.2 L118.5,710.4 L121.6,714.2 L124.7,717.7 L127.8,721.2 L130.9,724.3 L134.0,727.3 L137.1,729.6 L140.2,731.8 L143.3,733.6 L146.4,735.4 L149.5,737.0 L152.6,738.3 L155.7,740.0 L158.8,741.5 L161.9,743.1 L165.0,744.2 L168.1,745.5 L171.2,746.5 L174.3,747.4 L177.4,748.1 L180.5,749.0 L183.6,749.7 L186.7,750.0 L189.8,750.8 L192.9,751.5 L196.0,752.1 L199.1,752.3 L202.2,753.2 L205.3,753.7 L208.4,754.1 L211.5,754.3 L214.6,754.9 L217.7,755.3 L220.8,755.5 L223.9,755.7 L227.0,756.0 L230.1,756.3 L233.2,756.1 L236.3,756.7 L239.4,756.7 L242.5,756.5 L245.6,755.9 L248.7,756.7 L251.8,756.9 L254.9,756.6 L258.0,756.9 L261.1,757.3 L264.2,757.5 L267.3,756.6 L270.4,757.1 L273.5,757.1 L276.6,757.2 L279.7,756.7 L282.8,757.7 L285.9,758.0 L289.0,757.6 L292.1,757.5 L295.2,757.8 L298.3,757.9 L301.4,757.1 L304.5,757.8 L307.6,758.0 L310.7,758.3 L313.8,757.8 L316.9,758.6 L320.0,758.6 L323.1,758.1 L326.2,757.9 L329.3,758.4 L332.4,758.7 L335.5,758.1 L338.6,758.9 L341.7,759.1 L344.8,759.3 L347.9,758.5 L351.0,759.1 L354.1,759.1 L357.2,758.9 L360.3,758.8 L363.4,759.5 L366.5,759.9 L369.6,759.3 L372.7,759.8 L375.8,759.9 L378.9,760.0 L382.0,759.1 L385.1,759.9 L388.2,760.1 L391.3,760.0 L394.4,759.7 L397.5,760.3 L400.6,760.3 L403.7,759.5 L406.8,759.5 L409.9,759.6 L413.0,759.8 L416.1,759.0 L419.2,759.8 L422.3,759.9 L425.4,759.8 L428.5,759.2 L431.6,759.6 L434.7,759.5 L437.8,758.8 L440.9,759.0 L444.0,759.4 L447.1,759.7 L450.2,758.9 L453.3,759.6 L456.4,759.5 L459.5,759.4 L462.6,758.6 L465.7,759.2 L468.8,759.4 L471.9,759.0 L475.0,759.3 L478.1,759.7 L481.2,759.9 L484.3,758.9 L487.4,759.4 L490.5,759.3 L493.6,759.4 L496.7,758.8 L499.8,759.7 L502.9,759.9 L506.0,759.6 L509.1,759.4 L512.2,759.7 L515.3,759.8 L518.4,758.8 L521.5,759.4 L524.6,759.6 L527.7,759.9 L530.8,759.2 L533.9,760.1 L537.0,760.0 L540.1,759.6 L543.2,759.2 L546.3,759.6 L549.4,759.8 L552.5,759.2 L555.6,759.8 L558.7,760.1 L561.8,760.3 L564.9,759.4 L568.0,760.0 L571.1,759.9 L574.2,759.5 L577.3,759.3 L580.4,760.0 L583.5,760.3 L586.6,759.7 L589.7,760.1 L592.8,760.2 L595.9,760.2 L599.0,759.2 L602.1,759.9 L605.2,760.0 L608.3,760.0 L611.4,759.7 L614.5,760.4 L617.6,760.6 L620.7,759.8 L623.8,759.9 L626.9,760.0 L630.0,760.2 L633.1,759.4 L636.2,760.3 L639.3,760.5 L642.4,760.5 L645.5,759.9 L648.6,760.5 L651.7,760.4 L653.5,760.2 L653.5,778.4 L651.7,778.5 L648.6,778.6 L645.5,778.5 L642.4,777.8 L639.3,778.2 L636.2,778.8 L633.1,778.4 L630.0,778.5 L626.9,778.6 L623.8,779.0 L620.7,777.9 L617.6,778.2 L614.5,778.3 L611.4,778.6 L608.3,778.0 L605.2,778.6 L602.1,779.1 L599.0,778.6 L595.9,778.3 L592.8,778.4 L589.7,778.8 L586.6,777.8 L583.5,778.3 L580.4,778.6 L577.3,779.0 L574.2,778.3 L571.1,778.7 L568.0,778.9 L564.9,778.4 L561.8,778.0 L558.7,778.3 L555.6,778.9 L552.5,778.2 L549.4,778.7 L546.3,778.8 L543.2,779.1 L540.1,778.1 L537.0,778.4 L533.9,778.6 L530.8,778.4 L527.7,778.2 L524.6,778.6 L521.5,779.3 L518.4,778.5 L515.3,778.6 L512.2,778.6 L509.1,778.9 L506.0,777.9 L502.9,778.4 L499.8,778.8 L496.7,778.8 L493.6,778.5 L490.5,778.9 L487.4,779.3 L484.3,778.4 L481.2,778.4 L478.1,778.5 L475.0,779.0 L471.9,778.3 L468.8,778.9 L465.7,779.2 L462.6,779.2 L459.5,778.5 L456.4,778.8 L453.3,779.1 L450.2,778.4 L447.1,778.6 L444.0,778.9 L440.9,779.6 L437.8,778.7 L434.7,779.2 L431.6,779.2 L428.5,779.2 L425.4,778.4 L422.3,778.8 L419.2,779.4 L416.1,779.0 L413.0,779.1 L409.9,779.4 L406.8,779.8 L403.7,778.8 L400.6,779.0 L397.5,779.1 L394.4,779.2 L391.3,778.6 L388.2,779.2 L385.1,779.7 L382.0,779.2 L378.9,779.0 L375.8,779.0 L372.7,779.4 L369.6,778.4 L366.5,778.8 L363.4,779.0 L360.3,779.4 L357.2,778.7 L354.1,779.2 L351.0,779.4 L347.9,778.8 L344.8,778.4 L341.7,778.6 L338.6,779.1 L335.5,778.4 L332.4,778.9 L329.3,779.1 L326.2,779.4 L323.1,778.4 L320.0,778.7 L316.9,778.8 L313.8,778.5 L310.7,778.2 L307.6,778.6 L304.5,779.3 L301.4,778.5 L298.3,778.6 L295.2,778.5 L292.1,778.7 L289.0,777.5 L285.9,777.9 L282.8,778.1 L279.7,778.1 L276.6,777.6 L273.5,777.9 L270.4,778.2 L267.3,777.2 L264.2,777.1 L261.1,777.0 L258.0,777.4 L254.9,776.5 L251.8,776.8 L248.7,776.7 L245.6,776.3 L242.5,775.2 L239.4,775.1 L236.3,774.9 L233.2,774.2 L230.1,774.1 L227.0,774.0 L223.9,774.0 L220.8,773.5 L217.7,773.7 L214.6,773.7 L211.5,773.7 L208.4,773.4 L205.3,773.5 L202.2,773.7 L199.1,773.5 L196.0,773.5 L192.9,773.6 L189.8,773.8 L186.7,773.4 L183.6,773.7 L180.5,773.8 L177.4,774.1 L174.3,773.9 L171.2,774.3 L168.1,774.7 L165.0,774.7 L161.9,774.7 L158.8,774.9 L155.7,774.6 L152.6,773.6 L149.5,773.1 L146.4,772.6 L143.3,771.6 L140.2,770.1 L137.1,769.1 L134.0,767.9 L130.9,765.8 L127.8,763.7 L124.7,761.9 L121.6,760.0 L118.5,757.3 L115.4,755.0 L112.3,752.6 L109.2,750.9 L106.1,748.9 L103.0,748.0 L99.9,748.0 L96.8,747.9 L93.7,747.7 L90.6,747.7 L87.5,747.7 L84.4,747.3Z" fill="rgba(150,152,151,0.46)"/>
<line x1="78.0" y1="675.65" x2="665.2" y2="675.65" stroke="rgba(0,0,0,0.3)" stroke-width="1.6"/>
<line x1="224.80" y1="607.4" x2="224.80" y2="880.4" stroke="rgba(0,0,0,0.3)" stroke-width="1.6"/>
<line x1="78.0" y1="743.90" x2="665.2" y2="743.90" stroke="rgba(0,0,0,0.3)" stroke-width="1.6"/>
<line x1="371.60" y1="607.4" x2="371.60" y2="880.4" stroke="rgba(0,0,0,0.3)" stroke-width="1.6"/>
<line x1="78.0" y1="812.15" x2="665.2" y2="812.15" stroke="rgba(0,0,0,0.3)" stroke-width="1.6"/>
<line x1="518.40" y1="607.4" x2="518.40" y2="880.4" stroke="rgba(0,0,0,0.3)" stroke-width="1.6"/>
<polyline points="84.4,695.0 89.5,695.4 93.5,689.4 98.7,681.6 105.2,678.6 112.7,676.5 118.0,678.1 122.7,678.1 127.9,675.2 133.2,679.3 143.7,681.6 150.7,684.7 157.8,687.5 166.0,689.8 171.3,693.1 176.5,691.5 182.3,693.8 190.5,697.9 197.0,700.8 206.0,700.9 216.0,702.1 225.5,706.0 236.0,710.2 244.6,714.3 255.0,718.2 259.0,718.8 265.0,720.5 270.0,721.8 280.0,722.2 288.0,722.7 293.7,724.4 297.0,726.0 307.0,730.4 311.5,729.6 320.0,731.9 327.6,734.1 336.0,732.7 340.0,730.5 348.2,734.3 360.4,734.3 366.6,737.4 371.7,733.9 376.8,736.3 380.9,734.3 395.2,731.8 400.3,732.3 405.4,736.3 410.5,735.7 414.6,738.8 419.7,734.7 429.9,738.8 435.0,736.9 448.3,736.9 458.5,738.4 464.7,736.3 473.9,736.3 478.0,734.3 481.0,736.1 485.5,738.9 492.6,738.3 504.8,743.1 515.3,740.1 525.8,741.9 532.9,740.1 545.0,740.9 557.4,736.9 561.0,740.9 566.0,738.5 583.7,739.3 587.2,741.7 594.2,739.3 604.7,741.1 611.7,738.5 615.2,741.1 620.5,736.9 631.0,741.1 639.0,734.5 645.0,743.1 653.5,743.7" fill="none" stroke="#2b2b2b" stroke-width="2.4" stroke-linejoin="round"/>
<polyline points="84.4,726.3 92.4,722.3 99.4,721.1 105.2,723.0 113.4,729.3 122.7,737.5 132.0,745.0 146.0,752.7 157.8,756.2 169.5,759.2 176.5,759.2 185.8,761.5 197.5,763.2 206.8,763.6 216.0,764.3 227.9,765.0 236.0,764.8 250.0,765.8 262.0,765.2 280.4,765.9 292.0,767.2 304.0,767.2 320.0,768.4 340.0,768.8 354.3,769.0 370.0,768.4 387.9,769.2 405.0,769.6 421.5,770.0 429.9,766.7 438.3,769.0 450.0,768.4 465.0,769.4 480.0,768.0 500.0,769.0 520.0,768.8 540.0,767.8 560.0,768.6 580.0,768.0 600.0,768.8 620.0,767.8 640.0,768.4 653.5,769.9" fill="none" stroke="#04ab69" stroke-width="2.7" stroke-linejoin="round"/>
<rect x="78.00" y="607.40" width="587.20" height="273.00" fill="none" stroke="#000" stroke-width="4.3"/>
<text x="71.0" y="615.2" font-size="21.3" fill="#111" text-anchor="end">0.20</text>
<text x="70.9" y="683.4" font-size="21.3" fill="#111" text-anchor="end">-</text>
<text x="71.0" y="751.7" font-size="21.3" fill="#111" text-anchor="end">0.10</text>
<text x="71.0" y="819.9" font-size="21.3" fill="#111" text-anchor="end">0.05</text>
<text x="71.6" y="888.8" font-size="21.3" fill="#111" text-anchor="end">0</text>
<rect x="86.8" y="802.9" width="118" height="52" fill="#fff"/>
<text x="87.3" y="825.2" font-size="28.0" fill="#111" text-anchor="start" textLength="116.0" lengthAdjust="spacingAndGlyphs">Running-in</text>
<text x="116.3" y="851.8" font-size="28.0" fill="#111" text-anchor="start" textLength="57.0" lengthAdjust="spacingAndGlyphs">phase</text>
<rect x="366.5" y="823.6" width="128" height="30" fill="#fff"/>
<text x="367.6" y="846.8" font-size="28.0" fill="#111" text-anchor="start" textLength="125.2" lengthAdjust="spacingAndGlyphs">Steady State</text>
<line x1="208.3" y1="751.0" x2="208.3" y2="879.6" stroke="#04ab69" stroke-width="4.2" stroke-dasharray="7.6 4.4"/>
<line x1="94.0" y1="861.4" x2="193.0" y2="861.4" stroke="#04ab69" stroke-width="2.7"/>
<path d="M79.0,861.4 L95.0,853.4 L95.0,869.4 Z" fill="#04ab69"/>
<path d="M208.0,861.4 L192.0,853.4 L192.0,869.4 Z" fill="#04ab69"/>
<line x1="223.6" y1="861.4" x2="638.2" y2="861.4" stroke="#04ab69" stroke-width="2.7"/>
<path d="M208.6,861.4 L224.6,853.4 L224.6,869.4 Z" fill="#04ab69"/>
<path d="M653.2,861.4 L637.2,853.4 L637.2,869.4 Z" fill="#04ab69"/>
</g>
<line x1="665.3" y1="290" x2="665.3" y2="309" stroke="#000" stroke-width="1.6"/>
<rect x="192.45" y="41.15" width="242.50" height="31.10" fill="#9c9e9d" stroke="#0a0a0a" stroke-width="2.5"/>
<line x1="211.9" y1="69.6" x2="191.6" y2="103.8" stroke="#0a0a0a" stroke-width="2.6"/>
<text x="221.0" y="62.6" font-size="26.5" fill="#ffffff" text-anchor="start" textLength="187.6" lengthAdjust="spacingAndGlyphs">1 - Rolled spindle</text>
<line x1="292.6" y1="130.6" x2="336.2" y2="170.4" stroke="#0a0a0a" stroke-width="2.6"/>
<rect x="335.85" y="170.65" width="195.20" height="31.10" fill="#00509b" stroke="#0a0a0a" stroke-width="2.5"/>
<text x="348.2" y="192.7" font-size="26.5" fill="#ffffff" text-anchor="start" textLength="171.1" lengthAdjust="spacingAndGlyphs">2 - y<tspan font-size="19.5" dy="5.2">f</tspan><tspan dy="-5.2"> = 0.58 μm</tspan></text>
<line x1="347.0" y1="414.6" x2="317.4" y2="456.4" stroke="#0a0a0a" stroke-width="2.6"/>
<rect x="346.35" y="383.95" width="184.80" height="30.70" fill="#e3094c" stroke="#0a0a0a" stroke-width="2.5"/>
<text x="353.8" y="405.7" font-size="26.5" fill="#ffffff" text-anchor="start" textLength="170.6" lengthAdjust="spacingAndGlyphs">3 - y<tspan font-size="19.5" dy="5.2">f</tspan><tspan dy="-5.2"> = 2.31 μm</tspan></text>
<line x1="346.8" y1="715.2" x2="313.2" y2="764.4" stroke="#0a0a0a" stroke-width="2.6"/>
<rect x="346.35" y="685.05" width="184.80" height="30.20" fill="#04ab69" stroke="#0a0a0a" stroke-width="2.5"/>
<text x="353.2" y="706.2" font-size="26.5" fill="#ffffff" text-anchor="start" textLength="171.2" lengthAdjust="spacingAndGlyphs">4 - y<tspan font-size="19.5" dy="5.2">f</tspan><tspan dy="-5.2"> = 3.61 μm</tspan></text>
<text x="76.8" y="904.9" font-size="21.3" fill="#111" text-anchor="middle">0</text>
<text x="224.3" y="904.9" font-size="21.3" fill="#111" text-anchor="middle">5,000</text>
<text x="371.1" y="904.9" font-size="21.3" fill="#111" text-anchor="middle">10,000</text>
<text x="517.9" y="904.9" font-size="21.3" fill="#111" text-anchor="middle">-</text>
<text x="671.3" y="904.9" font-size="21.3" fill="#111" text-anchor="end">20,000</text>
<text x="233.4" y="933.5" font-size="28.0" fill="#111" text-anchor="start" textLength="277.4" lengthAdjust="spacingAndGlyphs">Number of Load cycles L</text>
<text transform="translate(25.6,574.2) rotate(-90)" font-size="28.6" fill="#111" textLength="254.2" lengthAdjust="spacingAndGlyphs">Coefficient of friction μ</text>
<rect x="0" y="945.8" width="685" height="3.9" fill="#000"/>
<text x="16.5" y="981.2" font-size="26.5" fill="#242424" text-anchor="start" textLength="136.2" lengthAdjust="spacingAndGlyphs">Weight force</text>
<text x="261.0" y="981.2" font-size="26.5" fill="#242424" text-anchor="start">F<tspan font-size="19.5" dy="5.5">G</tspan></text>
<text x="321.6" y="981.2" font-size="27.0" fill="#242424" text-anchor="start">= 91.3 kN</text>
<text x="18.3" y="1022.9" font-size="26.5" fill="#242424" text-anchor="start" textLength="149.0" lengthAdjust="spacingAndGlyphs">Testing cycles</text>
<text x="261.4" y="1022.9" font-size="26.5" fill="#242424" text-anchor="start">L</text>
<text x="322.0" y="1022.9" font-size="27.0" fill="#242424" text-anchor="start">= 20,000</text>
<text x="18.3" y="1064.9" font-size="26.5" fill="#242424" text-anchor="start" textLength="189.0" lengthAdjust="spacingAndGlyphs">Testing frequency</text>
<text x="262.4" y="1064.9" font-size="26.5" fill="#242424" text-anchor="start">f</text>
<text x="323.0" y="1064.9" font-size="27.0" fill="#242424" text-anchor="start">= 0.81 Hz</text>
<text x="18.8" y="1106.9" font-size="26.5" fill="#242424" text-anchor="start" textLength="211.0" lengthAdjust="spacingAndGlyphs">Testing temperature</text>
<text x="262.6" y="1106.9" font-size="26.5" fill="#242424" text-anchor="start">T</text>
<text x="323.8" y="1106.9" font-size="27.0" fill="#242424" text-anchor="start">&lt; 80 °C</text>
<text x="19.6" y="1148.5" font-size="26.5" fill="#242424" text-anchor="start" textLength="180.0" lengthAdjust="spacingAndGlyphs">Oscillation angle</text>
<text x="264.6" y="1148.5" font-size="26.5" fill="#242424" text-anchor="start">ν</text>
<text x="324.8" y="1148.5" font-size="27.0" fill="#242424" text-anchor="start">= 15 °</text>
<defs><linearGradient id="gy" x1="0" y1="0" x2="1" y2="0.7"><stop offset="0" stop-color="#dedea0"/><stop offset="0.45" stop-color="#c2c256"/><stop offset="1" stop-color="#909026"/></linearGradient><linearGradient id="gs" x1="0" y1="0" x2="1" y2="0.3"><stop offset="0" stop-color="#efb2a2"/><stop offset="0.5" stop-color="#e19474"/><stop offset="1" stop-color="#c27a4e"/></linearGradient><linearGradient id="gt" x1="0" y1="0" x2="1" y2="0"><stop offset="0" stop-color="#2c2d31"/><stop offset="0.4" stop-color="#4c4d55"/><stop offset="1" stop-color="#222326"/></linearGradient><linearGradient id="gl" x1="0" y1="0" x2="1" y2="0"><stop offset="0" stop-color="#3a3b41"/><stop offset="0.4" stop-color="#74767f"/><stop offset="1" stop-color="#34353a"/></linearGradient><clipPath id="c1"><path d="M548.8,1098 L551.4,1118 A30,13.2 0 0 0 611.4,1118 L614,1098 Z"/></clipPath><clipPath id="c2"><path d="M550.2,970.6 L550.2,1006.0 A30.6,12.5 0 0 0 611.4,1006.0 L611.4,970.6 Z"/></clipPath></defs>
<g>
<path d="M548.8,1098 L551.4,1118 A30,13.2 0 0 0 611.4,1118 L614,1098 Z" fill="url(#gl)"/>
<g clip-path="url(#c1)">
<path d="M547.4,1102.0 A34.0,11.0 0 0 0 615.4,1100.0" fill="none" stroke="#b4b6c0" stroke-width="1.7"/>
<path d="M547.4,1106.0 A34.0,11.0 0 0 0 615.4,1104.0" fill="none" stroke="#b4b6c0" stroke-width="1.7"/>
<path d="M547.4,1110.0 A34.0,11.0 0 0 0 615.4,1108.0" fill="none" stroke="#b4b6c0" stroke-width="1.7"/>
<path d="M547.4,1114.0 A34.0,11.0 0 0 0 615.4,1112.0" fill="none" stroke="#b4b6c0" stroke-width="1.7"/>
<path d="M547.4,1118.0 A34.0,11.0 0 0 0 615.4,1116.0" fill="none" stroke="#b4b6c0" stroke-width="1.7"/>
<path d="M547.4,1104.0 A34.0,11.0 0 0 0 615.4,1102.0" fill="none" stroke="#1c1c20" stroke-width="1.3"/>
<path d="M547.4,1108.0 A34.0,11.0 0 0 0 615.4,1106.0" fill="none" stroke="#1c1c20" stroke-width="1.3"/>
<path d="M547.4,1112.0 A34.0,11.0 0 0 0 615.4,1110.0" fill="none" stroke="#1c1c20" stroke-width="1.3"/>
<path d="M547.4,1116.0 A34.0,11.0 0 0 0 615.4,1114.0" fill="none" stroke="#1c1c20" stroke-width="1.3"/>
<path d="M547.4,1120.0 A34.0,11.0 0 0 0 615.4,1118.0" fill="none" stroke="#1c1c20" stroke-width="1.3"/>
</g>
<path d="M548.8,1098 L551.4,1118 A30,13.2 0 0 0 611.4,1118 L614,1098 Z" fill="none" stroke="#0c0c0c" stroke-width="2.4" stroke-linejoin="round"/>
<path d="M537.5,1060.0 L537.5,1097.6 A44.1,14.4 0 0 0 625.7,1097.6 L625.7,1060.0 Z" fill="url(#gy)" stroke="#0c0c0c" stroke-width="3.2" stroke-linejoin="round"/>
<path d="M525.0,1003.0 L525.0,1047.0 A56.4,30.4 0 0 0 637.8,1047.0 L637.8,1003.0 Z" fill="url(#gy)" stroke="#0c0c0c" stroke-width="3.2" stroke-linejoin="round"/>
<path d="M525.0,1003 A56.4,38 0 0 1 637.8,1003 A56.4,29.3 0 0 1 525.0,1003 Z" fill="url(#gs)" stroke="#0c0c0c" stroke-width="3.2"/>
<ellipse cx="580.8" cy="998.4" rx="36.8" ry="24.8" fill="#101012"/>
<path d="M550.2,970.6 L550.2,1006.0 A30.6,12.5 0 0 0 611.4,1006.0 L611.4,970.6 Z" fill="url(#gt)"/>
<g clip-path="url(#c2)">
<path d="M548.8,978.8 A32.0,11.5 0 0 0 612.8,975.2" fill="none" stroke="#9496a3" stroke-width="2.3"/>
<path d="M548.8,985.1 A32.0,11.5 0 0 0 612.8,981.5" fill="none" stroke="#9496a3" stroke-width="2.3"/>
<path d="M548.8,991.3 A32.0,11.5 0 0 0 612.8,987.7" fill="none" stroke="#9496a3" stroke-width="2.3"/>
<path d="M548.8,997.3 A32.0,11.5 0 0 0 612.8,993.7" fill="none" stroke="#9496a3" stroke-width="2.3"/>
<path d="M548.8,1002.9 A32.0,11.5 0 0 0 612.8,999.3" fill="none" stroke="#9496a3" stroke-width="2.3"/>
<path d="M548.8,1007.9 A32.0,11.5 0 0 0 612.8,1004.3" fill="none" stroke="#9496a3" stroke-width="2.3"/>
</g>
<ellipse cx="580.8" cy="970.6" rx="30.6" ry="15.6" fill="#55565f" stroke="#0c0c0c" stroke-width="2.8"/>
<ellipse cx="581.8" cy="970.2" rx="27" ry="13.6" fill="#787a89" stroke="#24252a" stroke-width="1.2"/>
<rect x="534.2" y="955.6" width="3.8" height="26" fill="#e3094c"/>
<path d="M523.6,979.4 L548.6,979.4 L536.1,1004.2 Z" fill="#e3094c"/>
<rect x="627.7" y="955.6" width="3.8" height="26" fill="#e3094c"/>
<path d="M617.6,979.4 L641.6,979.4 L629.6,1004.2 Z" fill="#e3094c"/>
<text x="491.5" y="979.4" font-size="26.5" fill="#e3094c" text-anchor="start">F<tspan font-size="19.5" dy="4.8">N</tspan></text>
<path d="M584,1096.6 C606,1096.5 626,1090 640,1070" fill="none" stroke="#00509b" stroke-width="4.2"/>
<path d="M561.4,1096.6 L585.6,1085.4 L585.6,1108.4 Z" fill="#00509b"/>
<path d="M649.6,1051.6 L650.2,1079.2 L628,1067.6 Z" fill="#00509b"/>
<text x="623.0" y="1125.2" font-size="26.5" fill="#00509b" text-anchor="start">M<tspan font-size="19.5" dy="4.8">R</tspan></text>
<text x="515.5" y="1159.2" font-size="21.0" fill="#1a1a1a" text-anchor="start" textLength="160.2" lengthAdjust="spacingAndGlyphs">Wg/117339 ©IFW</text>
</g>
</svg>
</body></html>
